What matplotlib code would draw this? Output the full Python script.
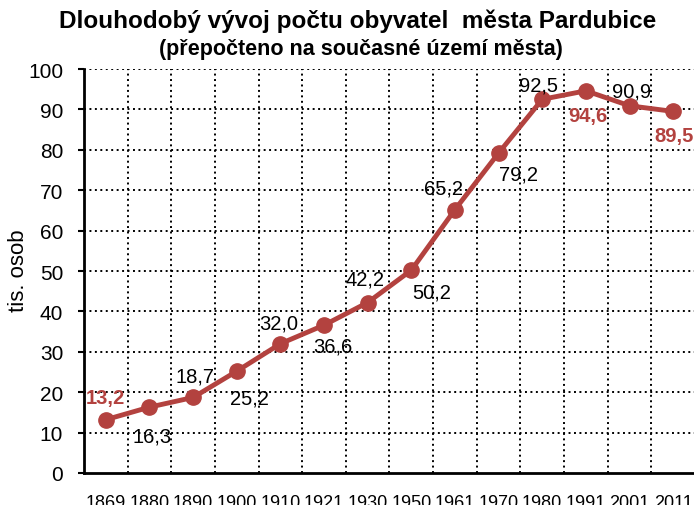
import numpy as np
import matplotlib.pyplot as plt

plt.rcParams['font.family'] = ['Liberation Sans', 'DejaVu Sans']

# data
years = ['1869', '1880', '1890', '1900', '1910', '1921', '1930', '1950',
         '1961', '1970', '1980', '1991', '2001', '2011']
pop = [13.2, 16.3, 18.7, 25.2, 32.0, 36.6, 42.2, 50.2,
       65.2, 79.2, 92.5, 94.6, 90.9, 89.5]
highlight = [0, 11, 13]  # values shown in bold red

red = '#B3423F'

# label offsets in pixels (dx, dy), positive dy = up
offs = [(0, 22), (3, -29), (2, 21), (13, -27), (-2, 21), (9, -21), (-3, 24),
        (20, -22), (-11, 22), (20, -21), (-4, 14), (2, -25), (2, 15), (1, -24)]

fig = plt.figure(figsize=(6.94, 5.06), dpi=100)
ax = fig.add_axes([84/694, 32/506, 611/694, 404/506])

x = np.arange(len(years))
ax.plot(x, pop, color=red, lw=3.5, marker='o', ms=11, zorder=3, clip_on=False)

for i, v in enumerate(pop):
    txt = f'{v:.1f}'.replace('.', ',')
    if i in highlight:
        ax.annotate(txt, (x[i], v), xytext=offs[i], textcoords='offset pixels',
                    ha='center', va='center', fontsize=14.5, fontweight='bold',
                    color=red, zorder=4)
    else:
        ax.annotate(txt, (x[i], v), xytext=offs[i], textcoords='offset pixels',
                    ha='center', va='center', fontsize=14.5, color='black',
                    zorder=4)

ax.set_xlim(-0.5, len(years) - 0.5)
ax.set_ylim(0, 100)
ax.set_yticks(np.arange(0, 101, 10))
ax.set_xticks(x)
ax.set_xticklabels(years)
ax.tick_params(axis='x', length=0, pad=15, labelsize=13)
ax.tick_params(axis='y', length=4, width=1.5, pad=11, labelsize=15, direction='out')

# grid: horizontal at ticks, vertical between categories
for yv in range(10, 101, 10):
    ax.axhline(yv, color='black', lw=1.4, ls=(0, (1, 1.8)), zorder=1)
for xv in np.arange(0.5, len(years) - 0.5, 1):
    ax.axvline(xv, color='black', lw=1.4, ls=(0, (1, 1.8)), zorder=1)

for s in ['top', 'right']:
    ax.spines[s].set_visible(False)
ax.spines['left'].set_linewidth(2)
ax.spines['bottom'].set_linewidth(2)

fig.text(18/694, 1 - 271/506, 'tis. osob', rotation=90, ha='center',
         va='center', fontsize=16)
fig.text(0.515, 1 - 21/506, 'Dlouhodobý vývoj počtu obyvatel  města Pardubice',
         ha='center', va='center', fontsize=17.5, fontweight='bold')
fig.text(0.52, 1 - 50/506, '(přepočteno na současné území města)',
         ha='center', va='center', fontsize=15.5, fontweight='bold')

fig.savefig('out.png', dpi=100)
